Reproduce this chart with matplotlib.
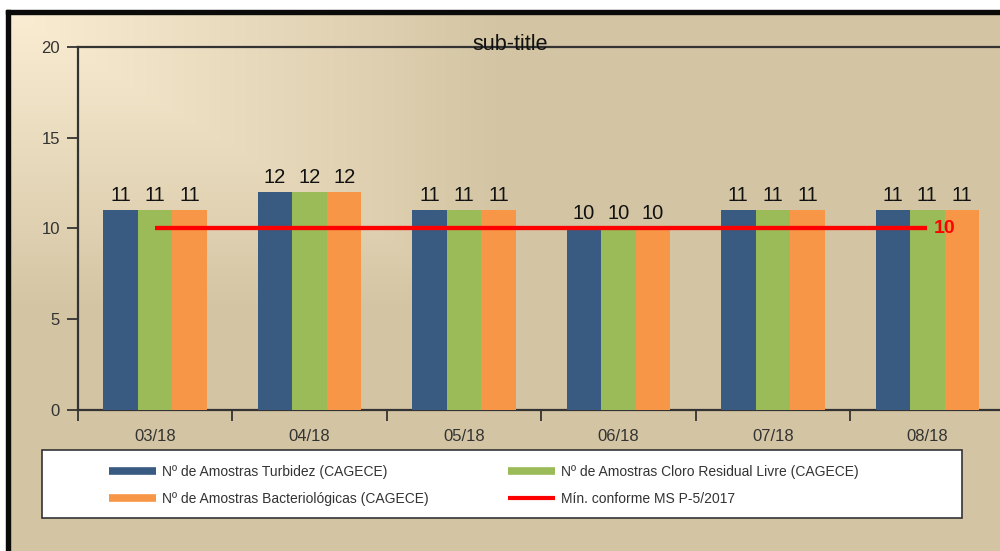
import matplotlib.pyplot as plt
import numpy as np
from matplotlib.patches import Rectangle
from matplotlib.lines import Line2D

plt.rcParams['font.family'] = ['Liberation Sans', 'DejaVu Sans']

# data
months = ["03/18", "04/18", "05/18", "06/18", "07/18", "08/18"]
turbidez = [11, 12, 11, 10, 11, 11]
cloro = [11, 12, 11, 10, 11, 11]
bacterio = [11, 12, 11, 10, 11, 11]
minimo = [10, 10, 10, 10, 10, 10]

series_names = ["Nº de Amostras Turbidez (CAGECE)",
                "Nº de Amostras Cloro Residual Livre (CAGECE)",
                "Nº de Amostras Bacteriológicas (CAGECE)"]
line_name = "Mín. conforme MS P-5/2017"

colors = ["#395B81", "#9BBB59", "#F79646"]
tan = np.array([211, 197, 163]) / 255.0
light = np.array([251, 237, 211]) / 255.0

W, H = 1000, 551
fig = plt.figure(figsize=(W / 100, H / 100), dpi=100)
fig.patch.set_facecolor("white")

# background with gradient in the top-left corner
bg = fig.add_axes([0, 0, 1, 1], zorder=-5)
yy, xx = np.mgrid[0:H, 0:W]
t = np.maximum((xx - 8) / 500.0, (yy - 12) / 300.0)
t = np.clip(t, 0, 1)
img = light[None, None, :] * (1 - t[..., None]) + tan[None, None, :] * t[..., None]
bg.imshow(img, extent=(0, W, H, 0), aspect="auto", interpolation="bilinear")
bg.add_patch(Rectangle((0, 0), W, 10, color="white"))
bg.add_patch(Rectangle((0, 0), 6, H, color="white"))
bg.add_patch(Rectangle((6, 10), W + 20, 4, color="#0a0a0a"))
bg.add_patch(Rectangle((6, 10), 4, H + 20, color="#0a0a0a"))
# legend box
bg.add_patch(Rectangle((42, 450), 920, 68, facecolor="white", edgecolor="#333333", lw=1.2))
bg.set_xlim(0, W)
bg.set_ylim(H, 0)
bg.axis("off")

ax = fig.add_axes([78 / W, 1 - 410 / H, 926.5 / W, 363 / H])
ax.patch.set_alpha(0)

x = np.arange(len(months))
bw = 0.2235
groups = [turbidez, cloro, bacterio]
for i, (vals, c, name) in enumerate(zip(groups, colors, series_names)):
    ax.bar(x + (i - 1) * bw, vals, bw, color=c, label=name, zorder=3)
    for xi, v in zip(x + (i - 1) * bw, vals):
        ax.text(xi, v + 0.3, str(v), ha="center", va="bottom", fontsize=14.5, color="#111111")

ax.plot(x, minimo, color="#FF0000", lw=3.1, zorder=4, solid_capstyle="butt")
ax.text(x[-1] + 0.04, minimo[-1], str(minimo[-1]), color="#FF0000", fontsize=14,
        fontweight="bold", ha="left", va="center", zorder=5)

ax.set_xlim(-0.5, len(months) - 0.5)
ax.set_ylim(0, 20)
ax.set_yticks([0, 5, 10, 15, 20])
ax.set_xticks(x)
ax.set_xticklabels(months)
ax.set_xticks(np.arange(len(months) + 1) - 0.5, minor=True)
ax.tick_params(axis="x", which="major", length=0, pad=14, labelsize=12, labelcolor="#333333")
ax.tick_params(axis="x", which="minor", length=8, width=1.3, color="#333333", direction="out")
ax.tick_params(axis="y", length=8, width=1.3, color="#333333", labelsize=12,
               labelcolor="#333333", pad=5)
for s in ["left", "top", "bottom"]:
    ax.spines[s].set_color("#333333")
    ax.spines[s].set_linewidth(1.6)
ax.spines["right"].set_visible(False)

fig.text(510 / W, 1 - 44 / H, "sub-title", ha="center", va="center", fontsize=15.5, color="#111111")

handles = [Line2D([], [], color=colors[0], lw=5.5, solid_capstyle="butt"),
           Line2D([], [], color=colors[2], lw=5.5, solid_capstyle="butt"),
           Line2D([], [], color=colors[1], lw=5.5, solid_capstyle="butt"),
           Line2D([], [], color="#FF0000", lw=3, solid_capstyle="butt")]
labels = [series_names[0], series_names[2], series_names[1], line_name]
fig.legend(handles, labels, ncol=2, loc="upper left", bbox_to_anchor=(102 / W, 1 - 458 / H),
           frameon=False, borderpad=0, handlelength=3.4, handletextpad=0.45,
           labelspacing=0.95, columnspacing=5.65, fontsize=10, labelcolor="#333333")

fig.savefig("out.png", dpi=100)
